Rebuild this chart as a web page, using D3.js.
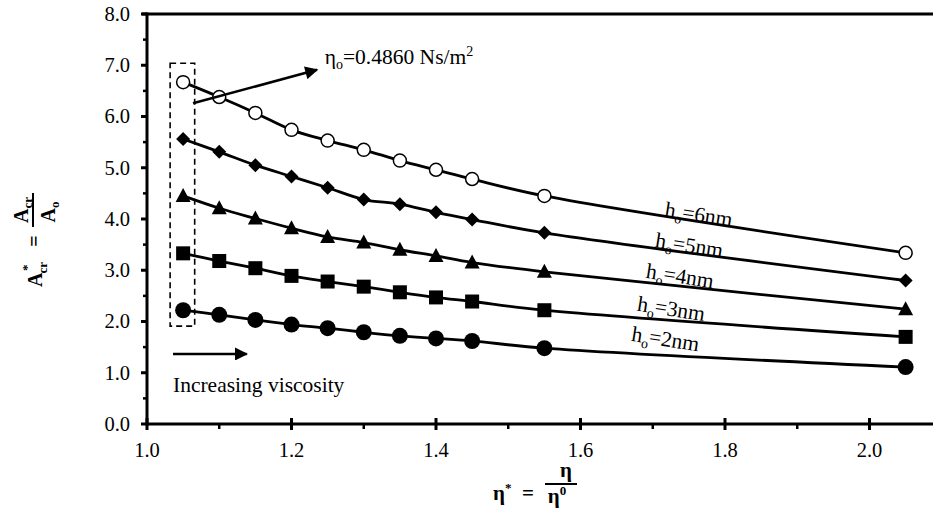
<!DOCTYPE html>
<html>
<head>
<meta charset="utf-8">
<script src="https://cdn.jsdelivr.net/npm/d3@7/dist/d3.min.js"></script>
<style>
  html, body { margin: 0; padding: 0; background: #fff; }
  svg { display: block; }
  text { font-family: "Liberation Serif", "Times New Roman", serif; fill: #000; }
</style>
</head>
<body>
<svg id="chart" width="933" height="512"></svg>
<script>
// Dimensionless viscosity η* at which each curve was evaluated
const eta = [1.05, 1.10, 1.15, 1.20, 1.25, 1.30, 1.35, 1.40, 1.45, 1.55, 2.05];

// Critical area ratio A*cr for each initial film thickness h_o
const h6 = [6.67, 6.38, 6.07, 5.74, 5.53, 5.35, 5.14, 4.96, 4.78, 4.45, 3.34];
const h5 = [5.56, 5.31, 5.05, 4.83, 4.61, 4.38, 4.29, 4.13, 3.99, 3.73, 2.80];
const h4 = [4.45, 4.21, 4.01, 3.82, 3.65, 3.54, 3.40, 3.28, 3.15, 2.97, 2.24];
const h3 = [3.33, 3.18, 3.04, 2.89, 2.78, 2.68, 2.57, 2.47, 2.39, 2.22, 1.70];
const h2 = [2.22, 2.13, 2.03, 1.94, 1.87, 1.79, 1.72, 1.67, 1.62, 1.48, 1.11];

const seriesNames = ["6nm", "5nm", "4nm", "3nm", "2nm"];
const seriesValues = [h6, h5, h4, h3, h2];
const seriesMarkers = ["openCircle", "diamond", "triangle", "square", "circle"];

// Axis ticks
const xTicks = [1.0, 1.2, 1.4, 1.6, 1.8, 2.0];
const xMinorTicks = [1.1, 1.3, 1.5, 1.7, 1.9, 2.1];
const yTicks = [0, 1, 2, 3, 4, 5, 6, 7, 8];
const yMinorTicks = [0.5, 1.5, 2.5, 3.5, 4.5, 5.5, 6.5, 7.5];

// Curve label anchors (η*, A*cr) in data space
const labelAnchors = [[1.762, 3.95], [1.749, 3.35], [1.736, 2.75], [1.724, 2.11], [1.716, 1.52]];

const svg = d3.select("#chart");
const x = d3.scaleLinear().domain([1.0, 2.1]).range([147, 941.75]);
const y = d3.scaleLinear().domain([0, 8]).range([424, 14]);

// Frame: left axis, bottom axis and top border
svg.append("line").attr("x1", x(1.0) - 5).attr("x2", 933).attr("y1", y(8)).attr("y2", y(8))
  .attr("stroke", "#000").attr("stroke-width", 3);
svg.append("line").attr("x1", x(1.0)).attr("x2", x(1.0)).attr("y1", y(8) - 1.5).attr("y2", y(0) + 1.5)
  .attr("stroke", "#000").attr("stroke-width", 3);
svg.append("line").attr("x1", x(1.0) - 1.5).attr("x2", 933).attr("y1", y(0)).attr("y2", y(0))
  .attr("stroke", "#000").attr("stroke-width", 3);

// Y ticks and labels
svg.selectAll(".ytick").data(yTicks).join("line")
  .attr("x1", x(1.0) - 6).attr("x2", x(1.0)).attr("y1", d => y(d)).attr("y2", d => y(d))
  .attr("stroke", "#000").attr("stroke-width", 3);
svg.selectAll(".yminor").data(yMinorTicks).join("line")
  .attr("x1", x(1.0) - 4).attr("x2", x(1.0)).attr("y1", d => y(d)).attr("y2", d => y(d))
  .attr("stroke", "#000").attr("stroke-width", 2.5);
svg.selectAll(".ylab").data(yTicks).join("text")
  .attr("x", x(1.0) - 17).attr("y", d => y(d)).attr("dy", "0.34em")
  .attr("text-anchor", "end").attr("font-size", 20.5)
  .text(d => d3.format(".1f")(d));

// X ticks and labels
svg.selectAll(".xtick").data(xTicks).join("line")
  .attr("x1", d => x(d)).attr("x2", d => x(d)).attr("y1", y(0) - 6).attr("y2", y(0) + 6)
  .attr("stroke", "#000").attr("stroke-width", 3);
svg.selectAll(".xminor").data(xMinorTicks).join("line")
  .attr("x1", d => x(d)).attr("x2", d => x(d)).attr("y1", y(0)).attr("y2", y(0) + 5)
  .attr("stroke", "#000").attr("stroke-width", 2.5);
svg.selectAll(".xlab").data(xTicks).join("text")
  .attr("x", d => x(d)).attr("y", y(0) + 33)
  .attr("text-anchor", "middle").attr("font-size", 20.5)
  .text(d => d3.format(".1f")(d));

// Dashed box around the lowest-viscosity points
svg.append("rect")
  .attr("x", x(1.032)).attr("y", y(7.04))
  .attr("width", x(1.066) - x(1.032)).attr("height", y(1.91) - y(7.04))
  .attr("fill", "none").attr("stroke", "#000").attr("stroke-width", 1.6)
  .attr("stroke-dasharray", "6,4");

// Curves
const line = d3.line().x(d => x(d[0])).y(d => y(d[1])).curve(d3.curveCatmullRom.alpha(0.5));
seriesValues.forEach(vals => {
  svg.append("path").datum(eta.map((e, i) => [e, vals[i]]))
    .attr("d", line).attr("fill", "none").attr("stroke", "#000").attr("stroke-width", 2.8);
});

// Markers
function drawMarker(g, type, cx, cy) {
  if (type === "openCircle") {
    g.append("circle").attr("cx", cx).attr("cy", cy).attr("r", 6.5)
      .attr("fill", "#fff").attr("stroke", "#000").attr("stroke-width", 1.5);
  } else if (type === "circle") {
    g.append("circle").attr("cx", cx).attr("cy", cy).attr("r", 8).attr("fill", "#000");
  } else if (type === "square") {
    g.append("rect").attr("x", cx - 7).attr("y", cy - 7).attr("width", 14).attr("height", 14).attr("fill", "#000");
  } else if (type === "triangle") {
    g.append("path").attr("d", `M${cx},${cy - 8}L${cx + 7.5},${cy + 6}L${cx - 7.5},${cy + 6}Z`).attr("fill", "#000");
  } else if (type === "diamond") {
    g.append("path").attr("d", `M${cx},${cy - 7}L${cx + 7},${cy}L${cx},${cy + 7}L${cx - 7},${cy}Z`).attr("fill", "#000");
  }
}
seriesValues.forEach((vals, s) => {
  const g = svg.append("g");
  eta.forEach((e, i) => drawMarker(g, seriesMarkers[s], x(e), y(vals[i])));
});

// Curve labels h_o = ...
seriesNames.forEach((name, s) => {
  const [lx, ly] = labelAnchors[s];
  const t = svg.append("text")
    .attr("transform", `translate(${x(lx)},${y(ly)}) rotate(9)`)
    .attr("text-anchor", "middle").attr("font-size", 21.5);
  t.append("tspan").text("h");
  t.append("tspan").attr("font-size", 14).attr("dy", 5).text("o");
  t.append("tspan").attr("dy", -5).text("=" + name);
});

// Arrow marker definition
const defs = svg.append("defs");
defs.append("marker").attr("id", "arrow").attr("viewBox", "0 0 10 10")
  .attr("refX", 9).attr("refY", 5).attr("markerWidth", 6).attr("markerHeight", 5)
  .attr("markerUnits", "strokeWidth").attr("orient", "auto")
  .append("path").attr("d", "M0,0L10,5L0,10Z").attr("fill", "#000");

// Reference viscosity annotation
svg.append("line")
  .attr("x1", x(1.0637)).attr("y1", y(6.26)).attr("x2", x(1.2353)).attr("y2", y(6.91))
  .attr("stroke", "#000").attr("stroke-width", 2.6).attr("marker-end", "url(#arrow)");
const etaLabel = svg.append("text").attr("x", x(1.246)).attr("y", y(7.03)).attr("font-size", 21.5);
etaLabel.append("tspan").text("η");
etaLabel.append("tspan").attr("font-size", 14).attr("dy", 5).text("o");
etaLabel.append("tspan").attr("dy", -5).text("=0.4860 Ns/m");
etaLabel.append("tspan").attr("font-size", 14).attr("dy", -8).text("2");

// Increasing viscosity annotation
svg.append("line")
  .attr("x1", x(1.036)).attr("y1", y(1.366)).attr("x2", x(1.138)).attr("y2", y(1.366))
  .attr("stroke", "#000").attr("stroke-width", 2.6).attr("marker-end", "url(#arrow)");
svg.append("text").attr("x", x(1.036)).attr("y", y(0.62)).attr("font-size", 21.5)
  .text("Increasing viscosity");

// Y axis title: A*cr = Acr / Ao
const yt = svg.append("g").attr("transform", "translate(33,240) rotate(-90)")
  .attr("font-weight", "bold");
const a1 = yt.append("text").attr("x", -47).attr("y", 9).attr("font-size", 20).attr("font-weight", "bold");
a1.append("tspan").text("A");
a1.append("tspan").attr("font-size", 13).attr("dy", 5).attr("dx", -1).text("cr");
yt.append("text").attr("x", -31).attr("y", -2).attr("font-size", 13).attr("font-weight", "bold").text("*");
yt.append("text").attr("x", -1).attr("y", 8).attr("text-anchor", "middle").attr("font-size", 20).attr("font-weight", "bold").text("=");
const num = yt.append("text").attr("x", 30).attr("y", -5).attr("text-anchor", "middle").attr("font-size", 20).attr("font-weight", "bold");
num.append("tspan").text("A");
num.append("tspan").attr("font-size", 13).attr("dy", 4).text("cr");
yt.append("line").attr("x1", 13).attr("x2", 47).attr("y1", 0).attr("y2", 0).attr("stroke", "#000").attr("stroke-width", 2);
const den = yt.append("text").attr("x", 28).attr("y", 22).attr("text-anchor", "middle").attr("font-size", 20).attr("font-weight", "bold");
den.append("tspan").text("A");
den.append("tspan").attr("font-size", 13).attr("dy", 4).text("o");

// X axis title: η* = η / η0
const xt = svg.append("g").attr("font-weight", "bold");
const e1 = xt.append("text").attr("x", 493).attr("y", 500).attr("font-size", 21).attr("font-weight", "bold");
e1.append("tspan").text("η");
e1.append("tspan").attr("font-size", 13).attr("dy", -8).text("*");
xt.append("text").attr("x", 528).attr("y", 500).attr("text-anchor", "middle").attr("font-size", 21).attr("font-weight", "bold").text("=");
xt.append("text").attr("x", 566).attr("y", 477).attr("text-anchor", "middle").attr("font-size", 21).attr("font-weight", "bold").text("η");
xt.append("line").attr("x1", 545).attr("x2", 577).attr("y1", 484).attr("y2", 484).attr("stroke", "#000").attr("stroke-width", 2);
const e2 = xt.append("text").attr("x", 557).attr("y", 503).attr("text-anchor", "middle").attr("font-size", 21).attr("font-weight", "bold");
e2.append("tspan").text("η");
e2.append("tspan").attr("font-size", 13).attr("dy", -8).text("0");
</script>
</body>
</html>
